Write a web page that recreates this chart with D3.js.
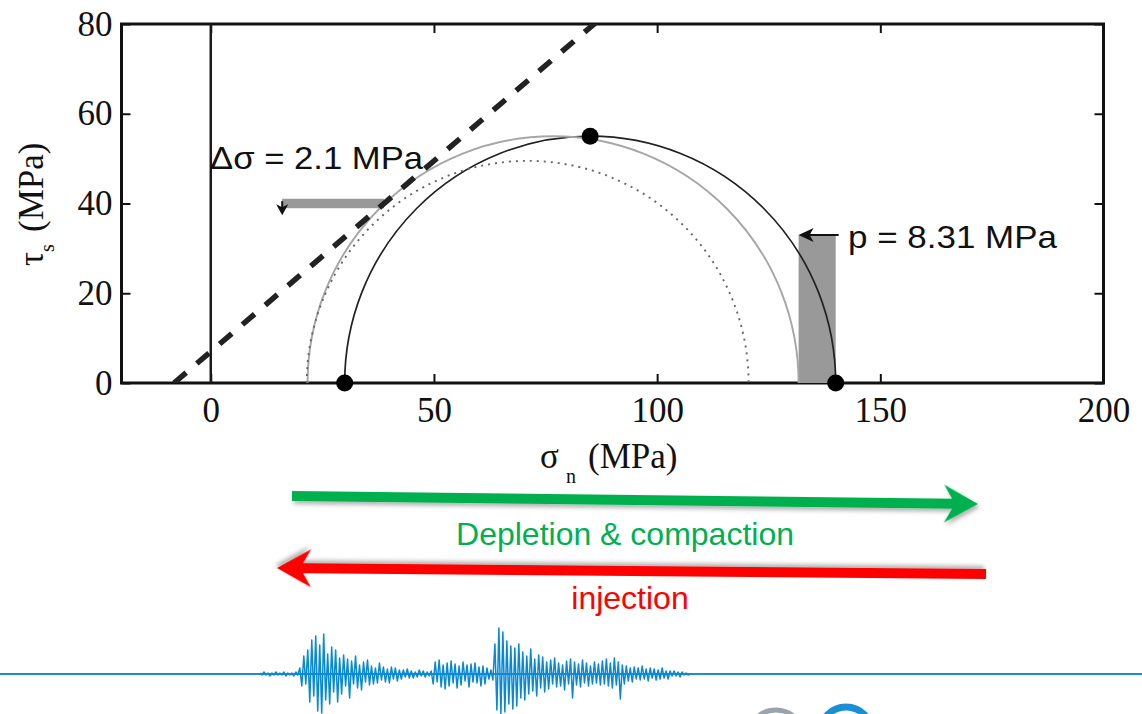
<!DOCTYPE html>
<html>
<head>
<meta charset="utf-8">
<script src="https://cdn.jsdelivr.net/npm/d3@7"></script>
<style>
  body { margin: 0; background: #fff; }
  svg { display: block; }
</style>
</head>
<body>
<div id="chart"></div>
<script>
// Mohr circles (MPa): initial, shifted by pore pressure, reduced
const circleNames = ["initial", "shifted", "reduced"];
const sigma3 = [30, 21.69, 21.5];
const sigma1 = [140, 131.69, 120.5];

// stress state markers [sigma_n, tau]
const stressPoints = [[30, 0], [140, 0], [85, 55]];

// Coulomb failure envelope: tau = cohesion + friction * sigma
const cohesion = 7;
const friction = 0.85;

const deltaSigma = 2.1;
const porePressure = 8.31;

const xTicks = [0, 50, 100, 150, 200];
const yTicks = [0, 20, 40, 60, 80];

// seismogram trace amplitudes (equal time steps)
const seismicTrace = [
  1, -1, 2, -1, 1, -2, 1, -1, 2, -1, 1, -1, 2, -2, 1, -1, 1, -2, 2, -1,
  6, -12, 18, -10, 24,
  -28, 34, -22, 38, -37, 29, -39, 40,
  -26, 20, -30, 27, -18, 24, -28, 16,
  -20, 19, -12, 15, -24, 13, -10, 18, -14, 9, -16, 12, -8, 14, -11,
  8, -10, 6, -9, 11, -6, 7, -8, 5, -9, 7, -5, 6, -7, 4,
  -5, 4, -3, 5, -4, 3, -4, 2, -3, 4, -2, 3, -3, 2, -2, 3,
  -10, 12, -8, 14, -13, 9, -15, 11, -12, 13, -9, 10, -14, 8, -11, 12, -7, 9, -13, 10,
  -8, 11, -9, 7, -12, 8, -10, 6, -5,
  4, -6,
  30, -36, 46, -40, 42, -38,
  33, -30, 28, -35, 26, -32, 30, -24,
  22, -26, 18, -20, 25, -17, 15, -22, 19, -14, 17, -18,
  12, -15, 14, -10, 16, -13, 11, -12, 9, -16, 13, -10, 15, -24, 12, -11, 10, -13, 14, -9,
  11, -12, 8, -10, 12, -9, 10, -11,
  13, -10, 15, -12, 11, -14, 16, -11, 12, -25, 9, -10,
  8, -7, 6, -8, 7, -5, 6, -6, 8, -5, 5, -7, 6, -4, 5, -6, 4, -5, 6, -4, 3, -5,
  3, -2, 3, -2, 2, -3, 2, -1, 1, -1, 0
];

const width = 1142;
const height = 714;
const serif = "'Liberation Serif', 'Times New Roman', serif";
const sans = "'Liberation Sans', Arial, sans-serif";

const svg = d3
  .select("#chart")
  .append("svg")
  .attr("width", width)
  .attr("height", height);

const defs = svg.append("defs");
defs.append("clipPath").attr("id", "plotClip")
  .append("rect").attr("x", 121.5).attr("y", 24).attr("width", 982).attr("height", 359);
defs.append("filter").attr("id", "shadow")
  .attr("x", "-5%").attr("y", "-50%").attr("width", "110%").attr("height", "200%")
  .append("feDropShadow")
  .attr("dx", 2).attr("dy", 3).attr("stdDeviation", 2)
  .attr("flood-color", "#000").attr("flood-opacity", 0.3);

// Scales
const x = d3.scaleLinear().domain([-20, 200]).range([121.5, 1103.5]);
const y = d3.scaleLinear().domain([0, 80]).range([383, 24]);

// Axes with inward ticks on all four sides
function styleAxis(g) {
  g.select(".domain").remove();
  g.selectAll(".tick line").attr("stroke", "#111").attr("stroke-width", 2);
  g.selectAll("text")
    .attr("fill", "#111")
    .style("font-family", serif)
    .style("font-size", "35px");
}

svg.append("g")
  .attr("transform", `translate(0,${y(0)})`)
  .call(d3.axisBottom(x).tickValues(xTicks).tickSizeInner(-9).tickSizeOuter(0).tickPadding(14))
  .call(styleAxis);

svg.append("g")
  .attr("transform", `translate(${x(-20)},0)`)
  .call(d3.axisLeft(y).tickValues(yTicks).tickSizeInner(-9).tickSizeOuter(0).tickPadding(9))
  .call(styleAxis);

svg.append("g")
  .attr("transform", `translate(0,${y(80)})`)
  .call(d3.axisTop(x).tickValues(xTicks).tickSizeInner(-9).tickSizeOuter(0).tickFormat(""))
  .call(styleAxis);

svg.append("g")
  .attr("transform", `translate(${x(200)},0)`)
  .call(d3.axisRight(y).tickValues(yTicks).tickSizeInner(-9).tickSizeOuter(0).tickFormat(""))
  .call(styleAxis);

// Plot frame
svg.append("rect")
  .attr("x", x(-20))
  .attr("y", y(80))
  .attr("width", x(200) - x(-20))
  .attr("height", y(0) - y(80))
  .attr("fill", "none")
  .attr("stroke", "#111")
  .attr("stroke-width", 3);

// Vertical line at sigma_n = 0
svg.append("line")
  .attr("x1", x(0)).attr("x2", x(0))
  .attr("y1", y(0)).attr("y2", y(80))
  .attr("stroke", "#1a1a1a")
  .attr("stroke-width", 2.5);

const plot = svg.append("g").attr("clip-path", "url(#plotClip)");

// Gray annotation bars
plot.append("rect")
  .attr("x", x(sigma1[0] - porePressure))
  .attr("y", y(33))
  .attr("width", x(sigma1[0]) - x(sigma1[0] - porePressure))
  .attr("height", y(0) - y(33))
  .attr("fill", "#999");

const barTau = 40;
const barEnd = (barTau - cohesion) / friction;
plot.append("rect")
  .attr("x", x(16))
  .attr("y", y(barTau + deltaSigma / 2))
  .attr("width", x(barEnd) - x(16))
  .attr("height", y(barTau - deltaSigma / 2) - y(barTau + deltaSigma / 2))
  .attr("fill", "#999");

// Mohr semicircles
const circleStroke = { initial: "#222", shifted: "#a6a6a6", reduced: "#666" };
const circleDash = { initial: null, shifted: null, reduced: "2,5" };
circleNames.forEach((name, i) => {
  const rx = (x(sigma1[i]) - x(sigma3[i])) / 2;
  const ry = y(0) - y((sigma1[i] - sigma3[i]) / 2);
  plot.append("path")
    .attr("d", `M${x(sigma3[i])},${y(0)} A${rx},${ry} 0 0 1 ${x(sigma1[i])},${y(0)}`)
    .attr("fill", "none")
    .attr("stroke", circleStroke[name])
    .attr("stroke-width", name === "initial" ? 1.7 : 1.9)
    .attr("stroke-dasharray", circleDash[name]);
});

// Failure envelope
plot.append("line")
  .attr("x1", x(-cohesion / friction))
  .attr("y1", y(0))
  .attr("x2", x((85 - cohesion) / friction))
  .attr("y2", y(85))
  .attr("stroke", "#222")
  .attr("stroke-width", 5.5)
  .attr("stroke-dasharray", "16,14");

// Stress markers
svg.selectAll("circle.pt")
  .data(stressPoints)
  .enter()
  .append("circle")
  .attr("class", "pt")
  .attr("cx", (d) => x(d[0]))
  .attr("cy", (d) => y(d[1]))
  .attr("r", 8.5)
  .attr("fill", "#000");

// Arrow markers on the annotations
const pTip = x(sigma1[0] - porePressure);
svg.append("line")
  .attr("x1", x(sigma1[0]) + 3).attr("x2", pTip + 8)
  .attr("y1", y(33)).attr("y2", y(33))
  .attr("stroke", "#111").attr("stroke-width", 2);
svg.append("path")
  .attr("d", `M${pTip},${y(33)} L${pTip + 15},${y(33) - 7} L${pTip + 11},${y(33)} L${pTip + 15},${y(33) + 7} Z`)
  .attr("fill", "#111");

const dTipX = x(16);
const dTipY = y(barTau - deltaSigma / 2) + 7;
svg.append("line")
  .attr("x1", dTipX).attr("x2", dTipX)
  .attr("y1", dTipY - 14).attr("y2", dTipY - 4)
  .attr("stroke", "#111").attr("stroke-width", 2);
svg.append("path")
  .attr("d", `M${dTipX},${dTipY} L${dTipX - 6},${dTipY - 11} L${dTipX},${dTipY - 8} L${dTipX + 6},${dTipY - 11} Z`)
  .attr("fill", "#111");

// Annotation texts
svg.append("text")
  .attr("x", 210).attr("y", 169)
  .attr("textLength", 213).attr("lengthAdjust", "spacingAndGlyphs")
  .style("font-family", sans).style("font-size", "32px").attr("fill", "#111")
  .text(`Δσ = ${deltaSigma} MPa`);

svg.append("text")
  .attr("x", 848).attr("y", 248)
  .attr("textLength", 209).attr("lengthAdjust", "spacingAndGlyphs")
  .style("font-family", sans).style("font-size", "32px").attr("fill", "#111")
  .text(`p = ${porePressure} MPa`);

// Axis titles
const yTitle = svg.append("text")
  .attr("transform", "translate(43,0) rotate(-90)")
  .style("font-family", serif).style("font-size", "35px").attr("fill", "#111");
yTitle.append("tspan").attr("x", -266).attr("y", 0).text("τ");
yTitle.append("tspan").attr("dy", 11).style("font-size", "20px").text("s");
yTitle.append("tspan").attr("x", -232).attr("y", 0).text("(MPa)");

const xTitle = svg.append("text")
  .attr("x", 540).attr("y", 468)
  .style("font-family", serif).style("font-size", "35px").attr("fill", "#111");
xTitle.append("tspan").text("σ");
xTitle.append("tspan").attr("x", 566).attr("dy", 15).style("font-size", "20px").text("n");
xTitle.append("tspan").attr("x", 588).attr("y", 468).text("(MPa)");

// Process arrows
function drawArrow(x1, y1, x2, y2, color) {
  const len = Math.hypot(x2 - x1, y2 - y1);
  const ang = (Math.atan2(y2 - y1, x2 - x1) * 180) / Math.PI;
  const L = 34, W = 19, N = 8, S = 5;
  const pts = [
    [0, -S], [len - L + N, -S], [len - L, -W], [len, 0],
    [len - L, W], [len - L + N, S], [0, S]
  ];
  svg.append("path")
    .attr("transform", `translate(${x1},${y1}) rotate(${ang})`)
    .attr("d", d3.line()(pts) + "Z")
    .attr("fill", color)
    .attr("filter", "url(#shadow)");
}

drawArrow(292, 496, 978, 504, "#00b050");
drawArrow(986, 574, 277, 568, "#ff0000");

svg.append("text")
  .attr("x", 625).attr("y", 545)
  .attr("text-anchor", "middle")
  .style("font-family", sans).style("font-size", "32px").attr("fill", "#00b050")
  .text("Depletion & compaction");

svg.append("text")
  .attr("x", 630).attr("y", 609)
  .attr("text-anchor", "middle")
  .style("font-family", sans).style("font-size", "32px").attr("fill", "#ff0000")
  .text("injection");

// Seismogram
const baseY = 674;
svg.append("line")
  .attr("x1", 0).attr("x2", width)
  .attr("y1", baseY).attr("y2", baseY)
  .attr("stroke", "#1a8fd6").attr("stroke-width", 2);

const tx = d3.scaleLinear().domain([0, seismicTrace.length - 1]).range([260, 690]);
const ty = d3.scaleLinear().domain([-50, 50]).range([baseY + 50, baseY - 50]);
svg.append("path")
  .datum(seismicTrace)
  .attr("d", d3.line().x((d, i) => tx(i)).y((d) => ty(d)))
  .attr("fill", "none")
  .attr("stroke", "#0a88d2")
  .attr("stroke-width", 1.5)
  .attr("stroke-linejoin", "round");

// Logo edges peeking at the bottom
svg.append("circle")
  .attr("cx", 776).attr("cy", 738).attr("r", 28)
  .attr("fill", "none").attr("stroke", "#9aa4ae").attr("stroke-width", 5);
svg.append("circle")
  .attr("cx", 846).attr("cy", 733).attr("r", 26)
  .attr("fill", "none").attr("stroke", "#1a8fd6").attr("stroke-width", 7);
</script>
</body>
</html>
